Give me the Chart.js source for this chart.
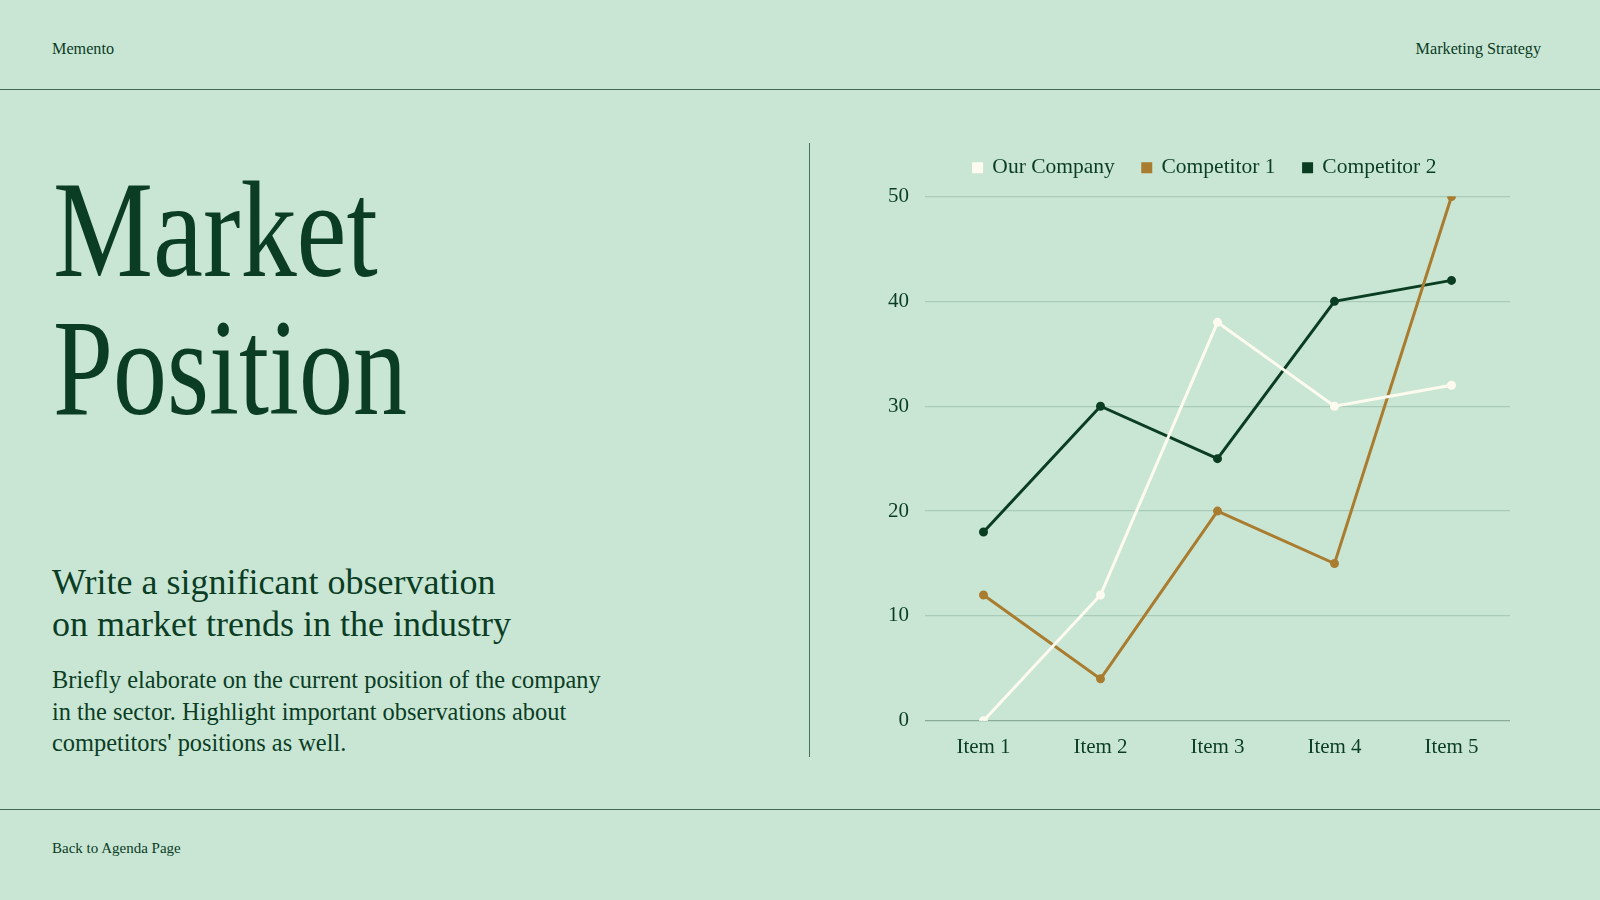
<!DOCTYPE html>
<html>
<head>
<meta charset="utf-8">
<script src="https://cdn.jsdelivr.net/npm/chart.js@4.4.1/dist/chart.umd.min.js"></script>
<style>
  html, body { margin: 0; padding: 0; }
  body {
    width: 1600px; height: 900px; position: relative; overflow: hidden;
    background: #c9e6d5; color: #0b3d24;
    font-family: 'Liberation Serif', serif;
  }
  .small { position: absolute; font-size: 16.2px; top: 40px; }
  .rule { position: absolute; left: 0; width: 1600px; height: 0; border-top: 1.5px solid #3f6a54; }
  .title {
    position: absolute; left: 53px; font-size: 138px; line-height: 1;
    transform-origin: left top; white-space: nowrap;
  }
  .sub { position: absolute; left: 52px; top: 561px; font-size: 36px; line-height: 42px; }
  .body { position: absolute; left: 52px; top: 664px; font-size: 24.4px; line-height: 31.5px; }
  .divider { position: absolute; left: 809px; top: 143px; width: 0; height: 614px; border-left: 1px solid #4a6e5a; }
  .chart-box { position: absolute; left: 850px; top: 129px; width: 680px; height: 647px; }
</style>
</head>
<body>
<div class="small" style="left:52px">Memento</div>
<div class="small" style="right:59px">Marketing Strategy</div>
<div class="rule" style="top:89px"></div>

<div class="title" style="top:161px; transform:scaleX(0.815)">Market</div>
<div class="title" style="top:299px; transform:scaleX(0.782)">Position</div>

<div class="sub">Write a significant observation<br>on market trends in the industry</div>
<div class="body">Briefly elaborate on the current position of the company<br>in the sector. Highlight important observations about<br>competitors' positions as well.</div>

<div class="divider"></div>
<div class="chart-box"><canvas id="chartMarket"></canvas></div>

<div class="rule" style="top:809px"></div>
<div class="small" style="left:52px; top:840px; font-size:15px">Back to Agenda Page</div>

<script>
const categories = ['Item 1', 'Item 2', 'Item 3', 'Item 4', 'Item 5'];
const ourCompany = [0, 12, 38, 30, 32];
const competitor1 = [12, 4, 20, 15, 50];
const competitor2 = [18, 30, 25, 40, 42];
const yTicks = [0, 10, 20, 30, 40, 50];

const ink = '#0b3d24';

function series(label, data, color) {
  return {
    label, data,
    borderColor: color,
    backgroundColor: color,
    borderWidth: 3,
    pointRadius: 3,
    pointHoverRadius: 3,
    tension: 0
  };
}

// extra room under the legend, and nudge it right over the plot
const legendTweak = {
  id: 'legendTweak',
  beforeInit(chart) {
    const legend = chart.legend;
    const fit = legend.fit;
    legend.fit = function () {
      fit.call(this);
      this.height += 8;
    };
    const draw = legend.draw;
    legend.draw = function () {
      this.ctx.save();
      this.ctx.translate(14, 0);
      draw.call(this);
      this.ctx.restore();
    };
  }
};

new Chart(document.getElementById('chartMarket'), {
  type: 'line',
  data: {
    labels: categories,
    datasets: [
      series('Our Company', ourCompany, '#fdfbef'),
      series('Competitor 1', competitor1, '#a97c2f'),
      series('Competitor 2', competitor2, '#0a3d22')
    ]
  },
  options: {
    responsive: true,
    maintainAspectRatio: false,
    animation: false,
    layout: { padding: { left: 22, right: 20, top: 0, bottom: 10 } },
    plugins: {
      tooltip: { enabled: false },
      legend: {
        position: 'top',
        labels: {
          color: ink,
          font: { family: 'Liberation Serif', size: 21.5 },
          usePointStyle: true,
          pointStyle: 'rect',
          boxWidth: 8,
          boxHeight: 8,
          padding: 28
        }
      }
    },
    scales: {
      x: {
        offset: true,
        grid: { display: false },
        border: { display: false },
        ticks: { color: ink, font: { family: 'Liberation Serif', size: 21 }, padding: 6 }
      },
      y: {
        min: yTicks[0],
        max: yTicks[yTicks.length - 1],
        afterBuildTicks: axis => { axis.ticks = yTicks.map(v => ({ value: v })); },
        border: { display: false },
        grid: {
          color: ctx => ctx.tick && ctx.tick.value === 0 ? '#8bab98' : '#aacbb8',
          lineWidth: 1.2,
          drawTicks: false
        },
        ticks: { color: ink, font: { family: 'Liberation Serif', size: 21 }, padding: 16 }
      }
    }
  },
  plugins: [legendTweak]
});
</script>
</body>
</html>
